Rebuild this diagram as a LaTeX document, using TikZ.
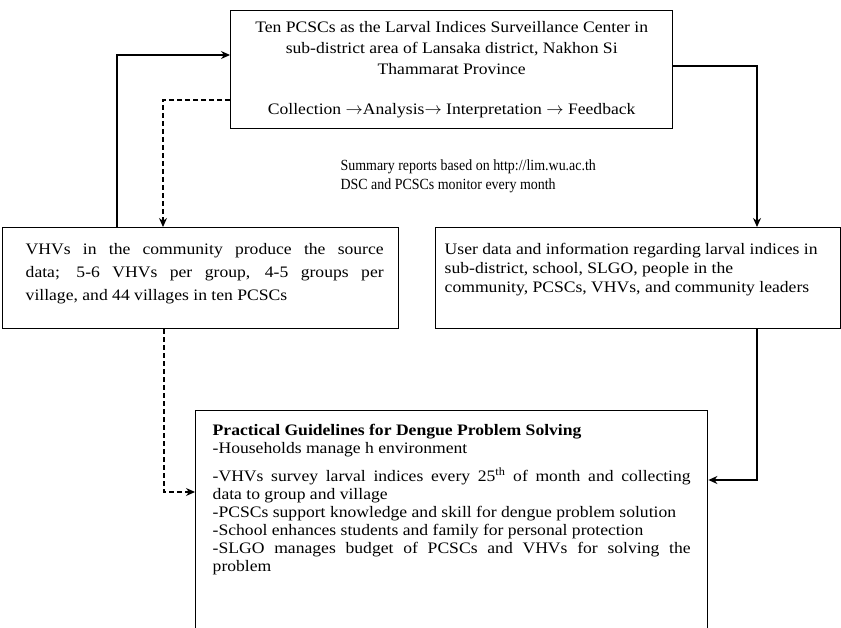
\documentclass[tikz,border=0pt]{standalone}
\usepackage{fontspec}
\setmainfont{Liberation Serif}
\newfontfamily\widefont{Liberation Serif}[FakeStretch=1.1]
\newfontfamily\narrowfont{Liberation Serif}[FakeStretch=0.9]
\usetikzlibrary{arrows.meta}
\usetikzlibrary{positioning}
\long\def\boxtext#1#2#3{\begin{minipage}[t][#2][t]{#1}#3\end{minipage}}

\begin{document}
\begin{tikzpicture}[->,>={Stealth[length=9pt,width=8pt]},line width=1.2pt,
			x=1pt,y=-1pt,font=\widefont\fontsize{16}{19}\selectfont]
			\tikzstyle{block}=[draw,line width=1.4pt,anchor=north west]
			\tikzstyle{feed}=[dash pattern=on 5pt off 3pt]
			\useasboundingbox (0,0) rectangle (841,628);

			\node[block,inner xsep=5pt,inner ysep=11pt] (center) at (230,10)
				{\boxtext{432pt}{96pt}{\centering\baselineskip=21pt
				Ten PCSCs as the Larval Indices Surveillance Center in\\
				sub-district area of Lansaka district, Nakhon Si\\
				Thammarat Province\\[19pt]
				Collection $\rightarrow$Analysis$\rightarrow$ Interpretation $\rightarrow$ Feedback}};
			\node[block,inner xsep=0pt,inner ysep=16pt] (vhv) at (2,227)
				{\hspace*{23pt}\boxtext{358pt}{69pt}{\baselineskip=23pt
				VHVs in the community produce the source\linebreak
				data; 5-6 VHVs per group, 4-5 groups per\linebreak
				village, and 44 villages in ten PCSCs}\hspace*{15pt}};
			\node[block,inner xsep=9pt,inner ysep=16pt] (user) at (435,227)
				{\boxtext{387pt}{69pt}{\raggedright
				User data and information regarding larval indices in\\
				sub-district, school, SLGO, people in the\\
				community, PCSCs, VHVs, and community leaders}};
			\node[block,inner xsep=17pt,inner ysep=14pt] (guide) at (195,410)
				{\boxtext{478pt}{202pt}{\baselineskip=18pt
				\textbf{Practical Guidelines for Dengue Problem Solving}\par
				-Households manage h environment\par\vspace{10pt}
				-VHVs survey larval indices every 25\textsuperscript{th} of month and collecting\linebreak
				data to group and village\par
				-PCSCs support knowledge and skill for dengue problem solution\par
				-School enhances students and family for personal protection\par
				-SLGO manages budget of PCSCs and VHVs for solving the\linebreak
				problem}};
			\node[anchor=north west,align=left,inner sep=0pt,font=\narrowfont\fontsize{15.5}{19}\selectfont]
				(summary) at (340,159)
				{Summary reports based on http://lim.wu.ac.th\\DSC and PCSCs monitor every month};

			\coordinate (upbend) at (117,55);
			\coordinate (fbbend) at (163,100);
			\coordinate (rptbend) at (757,66);
			\coordinate (vhvbend) at (164,492);
			\coordinate (userbend) at (757,480);

			\draw (upbend |- vhv.north) -- (upbend) -- (upbend -| center.west);
			\draw[feed] (fbbend -| center.west) -- (fbbend) -- (fbbend |- vhv.north);
			\draw (rptbend -| center.east) -- (rptbend) -- (rptbend |- user.north);
			\draw[feed] (vhvbend |- vhv.south) -- (vhvbend) -- (vhvbend -| guide.west);
			\draw (userbend |- user.south) -- (userbend) -- (userbend -| guide.east);
\end{tikzpicture}
\end{document}
